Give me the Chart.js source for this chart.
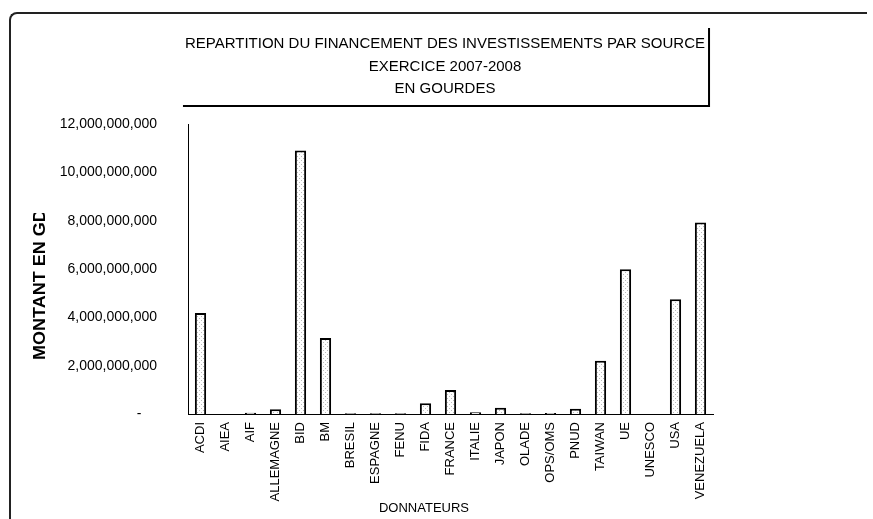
<!DOCTYPE html>
<html>
<head>
<meta charset="utf-8">
<script src="https://cdn.jsdelivr.net/npm/chart.js@4"></script>
<style>
    body { margin: 0; background: #fff; }
    #wrap { position: relative; width: 873px; height: 519px; overflow: hidden; }
    #cadre { position: absolute; left: 9px; top: 12px; width: 856px; height: 520px;
             border-top: 2px solid #222; border-left: 2px solid #222; border-top-left-radius: 8px; }
    #chart { position: absolute; left: 0; top: 0; }
</style>
</head>
<body>
<div id="wrap">
    <div id="cadre"></div>
    <canvas id="chart" width="873" height="519"></canvas>
</div>
<script>
// ---------- DONNÉES ----------
const donnateurs = ['ACDI', 'AIEA', 'AIF', 'ALLEMAGNE', 'BID', 'BM', 'BRESIL', 'ESPAGNE', 'FENU', 'FIDA',
    'FRANCE', 'ITALIE', 'JAPON', 'OLADE', 'OPS/OMS', 'PNUD', 'TAIWAN', 'UE', 'UNESCO', 'USA', 'VENEZUELA'];
const montants = [4180000000, 0, 50000000, 200000000, 10900000000, 3140000000, 30000000, 30000000, 30000000, 440000000,
    990000000, 70000000, 260000000, 30000000, 40000000, 220000000, 2200000000, 5990000000, 0, 4750000000, 7920000000];
const titreLignes = ['REPARTITION DU FINANCEMENT DES INVESTISSEMENTS PAR SOURCE', 'EXERCICE 2007-2008', 'EN GOURDES'];
const titreAxeY = 'MONTANT EN GD';
const titreAxeX = 'DONNATEURS';
const axeYMax = 12000000000;
const axeYPas = 2000000000;

const police = '"Liberation Sans", Arial, sans-serif';
Chart.defaults.font.family = police;
Chart.defaults.color = '#000';

// ---------- MOTIF POINTILLÉ DES BARRES ----------
function motifPointille() {
    const c = document.createElement('canvas');
    c.width = 4; c.height = 4;
    const g = c.getContext('2d');
    g.fillStyle = '#fff';
    g.fillRect(0, 0, 4, 4);
    g.fillStyle = '#bbb';
    g.fillRect(1, 0, 1, 1);
    g.fillRect(3, 2, 1, 1);
    return g.createPattern(c, 'repeat');
}

// ---------- TITRES (cadre du titre + axes) ----------
const titresPlugin = {
    id: 'titres',
    afterDraw(chart) {
        const ctx = chart.ctx;
        ctx.save();
        ctx.fillStyle = '#000';

        // titre principal
        ctx.font = '15px ' + police;
        ctx.textAlign = 'center';
        ctx.textBaseline = 'middle';
        titreLignes.forEach((t, i) => ctx.fillText(t, 445, 44 + i * 22.5));

        // cadre du titre (ombre bas / droite)
        const w = ctx.measureText(titreLignes[0]).width;
        ctx.strokeStyle = '#000';
        ctx.lineWidth = 2;
        ctx.beginPath();
        ctx.moveTo(445 - w / 2 - 2, 106);
        ctx.lineTo(445 + w / 2 + 4, 106);
        ctx.lineTo(445 + w / 2 + 4, 28);
        ctx.stroke();

        // titre axe X
        ctx.font = '13px ' + police;
        ctx.fillText(titreAxeX, 424, 508);

        // titre axe Y (coupé en haut comme l'original)
        ctx.beginPath();
        ctx.rect(0, 213, 90, 306);
        ctx.clip();
        ctx.translate(40, 360);
        ctx.rotate(-Math.PI / 2);
        ctx.scale(1.06, 1);
        ctx.font = 'bold 17px ' + police;
        ctx.textAlign = 'left';
        ctx.fillText(titreAxeY, 0, 0);
        ctx.restore();
    }
};

// ---------- GRAPHIQUE ----------
const chart = new Chart(document.getElementById('chart'), {
    type: 'bar',
    data: {
        labels: donnateurs,
        datasets: [{
            data: montants,
            backgroundColor: motifPointille(),
            borderColor: '#000',
            borderWidth: 2,
            barPercentage: 0.45,
            categoryPercentage: 1
        }]
    },
    options: {
        responsive: false,
        animation: false,
        layout: { padding: { left: 0, right: 160, top: 124, bottom: 0 } },
        plugins: {
            legend: { display: false },
            title: { display: false },
            tooltip: { enabled: false }
        },
        scales: {
            x: {
                grid: { display: false, drawTicks: false },
                border: { color: '#000', width: 1, dash: [6, 2] },
                ticks: { font: { size: 13 }, maxRotation: 90, minRotation: 90, padding: 8, autoSkip: false },
                afterFit(s) { s.height = 105; }
            },
            y: {
                min: 0,
                max: axeYMax,
                grid: { display: false, drawTicks: false },
                border: { color: '#000', width: 1 },
                ticks: {
                    stepSize: axeYPas,
                    padding: 31,
                    font: { size: 14 },
                    callback: v => v === 0 ? '-    ' : v.toLocaleString('en-US')
                },
                afterFit(s) { s.width = 188; }
            }
        }
    },
    plugins: [titresPlugin]
});
</script>
</body>
</html>
